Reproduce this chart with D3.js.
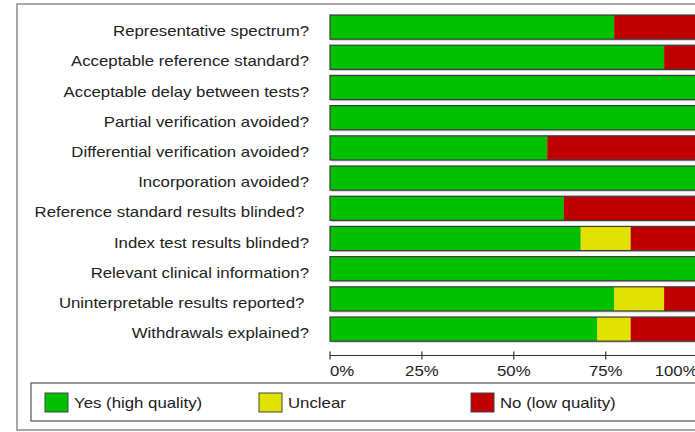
<!DOCTYPE html>
<html>
<head>
<meta charset="utf-8">
<script src="https://cdn.jsdelivr.net/npm/d3@7"></script>
<style>
  body { margin: 0; background: #fff; }
  svg { display: block; font-family: "Liberation Sans", Arial, sans-serif; }
</style>
</head>
<body>
<div id="chart"></div>
<script>
// QUADAS items and their share of studies (percent)
var questions = [
    "Representative spectrum?",
    "Acceptable reference standard?",
    "Acceptable delay between tests?",
    "Partial verification avoided?",
    "Differential verification avoided?",
    "Incorporation avoided?",
    "Reference standard results blinded? ",
    "Index test results blinded?",
    "Relevant clinical information?",
    "Uninterpretable results reported? ",
    "Withdrawals explained?"
];
var yesPct     = [77.3, 90.9, 100, 100, 59.1, 100, 63.6, 68.2, 100, 77.3, 72.7];
var unclearPct = [0,    0,    0,   0,   0,    0,   0,    13.6, 0,   13.6, 9.1];
var noPct      = [22.7, 9.1,  0,   0,   40.9, 0,   36.4, 18.2, 0,   9.1,  18.2];

var tickValues = [0, 25, 50, 75, 100];
var legendLabels = ["Yes (high quality)", "Unclear", "No (low quality)"];
var colors = ["#00c000", "#e2e200", "#c00000"];

var W = 695, H = 432;
var stretch = 1.2;   // the original image is stretched sideways

var svg = d3.select("#chart").append("svg")
    .attr("width", W)
    .attr("height", H);

// outer frame
svg.append("rect")
    .attr("x", 17).attr("y", 4)
    .attr("width", 720).attr("height", 426)
    .attr("fill", "none")
    .attr("stroke", "#8a8a8a")
    .attr("stroke-width", 1.5);

var x = d3.scaleLinear().domain([0, 100]).range([330, 697.6]);
var y = d3.scaleBand().domain(questions).range([12, 344.2])
    .paddingInner(0.2).paddingOuter(0.1);

var rows = questions.map(function(q, i) {
    var a = yesPct[i], b = unclearPct[i], c = noPct[i];
    return {
        q: q,
        segs: [
            {x0: 0, x1: a, c: colors[0]},
            {x0: a, x1: a + b, c: colors[1]},
            {x0: a + b, x1: a + b + c, c: colors[2]}
        ]
    };
});

var row = svg.selectAll(".row")
    .data(rows)
    .enter().append("g")
    .attr("class", "row")
    .attr("transform", function(d) { return "translate(0," + y(d.q) + ")"; });

// soft shadow behind each bar
row.append("rect")
    .attr("x", x(0) + 1.5).attr("y", 1.5)
    .attr("width", x(100) - x(0)).attr("height", y.bandwidth())
    .attr("fill", "#c8c8c8");

row.selectAll(".seg")
    .data(function(d) { return d.segs.filter(function(s) { return s.x1 > s.x0; }); })
    .enter().append("rect")
    .attr("class", "seg")
    .attr("x", function(s) { return x(s.x0); })
    .attr("y", 0)
    .attr("width", function(s) { return x(s.x1) - x(s.x0); })
    .attr("height", y.bandwidth())
    .attr("fill", function(s) { return s.c; });

row.append("rect")
    .attr("x", x(0)).attr("y", 0)
    .attr("width", x(100) - x(0)).attr("height", y.bandwidth())
    .attr("fill", "none")
    .attr("stroke", "#3a3a3a")
    .attr("stroke-width", 1.2);

// question labels (baseline a little below the bar middle)
row.append("g")
    .attr("transform", "translate(309," + (y.bandwidth() / 2 + 9) + ") scale(" + stretch + ",1)")
    .append("text")
    .attr("text-anchor", "end")
    .style("white-space", "pre")
    .attr("font-size", 14)
    .attr("fill", "#222")
    .text(function(d) { return d.q; });

// x axis
var axisY = 355.5;
var ax = svg.append("g");
ax.append("line")
    .attr("x1", x(0)).attr("x2", x(100))
    .attr("y1", axisY).attr("y2", axisY)
    .attr("stroke", "#333").attr("stroke-width", 1.2);
ax.selectAll(".tick")
    .data(tickValues)
    .enter().append("line")
    .attr("x1", function(d) { return x(d); })
    .attr("x2", function(d) { return x(d); })
    .attr("y1", axisY - 4).attr("y2", axisY + 4)
    .attr("stroke", "#333").attr("stroke-width", 1.2);
ax.selectAll(".tl")
    .data(tickValues)
    .enter().append("g")
    .attr("transform", function(d) { return "translate(" + x(d) + ",371) scale(" + stretch + ",1)"; })
    .append("text")
    .attr("text-anchor", function(d, i) { return i == 0 ? "start" : (i == tickValues.length - 1 ? "end" : "middle"); })
    .attr("dy", "0.35em")
    .attr("font-size", 14)
    .attr("fill", "#222")
    .text(function(d) { return d + "%"; });

// legend
svg.append("rect")
    .attr("x", 31).attr("y", 383)
    .attr("width", 700).attr("height", 38)
    .attr("fill", "none")
    .attr("stroke", "#555")
    .attr("stroke-width", 1.2);

var legendX = [45, 259, 471];
var lg = svg.selectAll(".lg")
    .data(legendLabels)
    .enter().append("g")
    .attr("class", "lg")
    .attr("transform", function(d, i) { return "translate(" + legendX[i] + ",393)"; });
lg.append("rect")
    .attr("width", 23).attr("height", 19)
    .attr("fill", function(d, i) { return colors[i]; })
    .attr("stroke", "#444").attr("stroke-width", 1);
lg.append("g")
    .attr("transform", "translate(29,10) scale(" + stretch + ",1)")
    .append("text")
    .attr("dy", "0.35em")
    .attr("font-size", 14)
    .attr("fill", "#222")
    .text(function(d) { return d; });
</script>
</body>
</html>
